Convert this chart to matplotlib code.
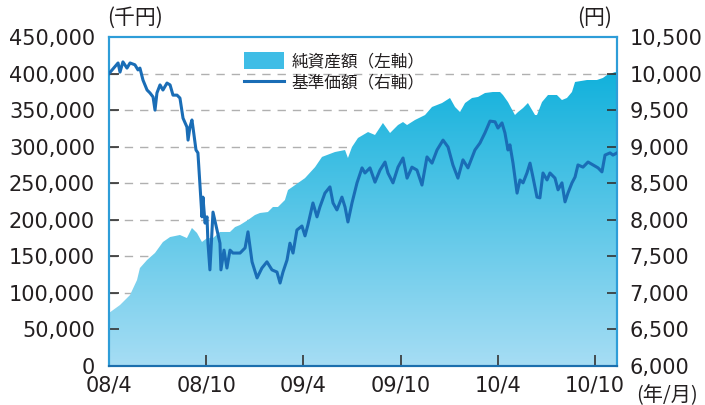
import numpy as np
import matplotlib.pyplot as plt
from matplotlib.colors import LinearSegmentedColormap
from matplotlib.patches import Patch, Polygon
from matplotlib.lines import Line2D

plt.rcParams['font.family'] = ['DejaVu Sans', 'Noto Sans CJK JP']

# months counted from 2008/4
nav_month = [0, 0.56, 0.68, 0.86, 1.11, 1.30, 1.60, 1.79, 1.91, 2.10, 2.35, 2.53, 2.72, 2.84, 2.96,
             3.15, 3.33, 3.58, 3.77, 3.95, 4.20, 4.38, 4.57, 4.81, 4.88, 5.00, 5.12, 5.19, 5.37,
             5.49, 5.62, 5.74, 5.80, 5.93, 6.05, 6.11, 6.23, 6.42, 6.67, 6.85, 6.91, 7.10, 7.28,
             7.47, 7.65, 7.90, 8.09, 8.40, 8.58, 8.83, 9.14, 9.44, 9.75, 10.06, 10.37, 10.56,
             10.74, 10.99, 11.17, 11.36, 11.60, 11.91, 12.10, 12.28, 12.59, 12.84, 13.02, 13.33,
             13.64, 13.83, 14.07, 14.38, 14.57, 14.75, 15.00, 15.31, 15.62, 15.80, 16.11, 16.42,
             16.73, 17.04, 17.22, 17.53, 17.84, 18.15, 18.40, 18.70, 19.01, 19.32, 19.63, 19.94,
             20.25, 20.62, 20.93, 21.23, 21.54, 21.85, 22.16, 22.59, 22.90, 23.21, 23.52, 23.83,
             24.01, 24.26, 24.44, 24.63, 24.75, 24.94, 25.19, 25.37, 25.56, 25.80, 25.99, 26.17,
             26.42, 26.60, 26.79, 27.04, 27.22, 27.53, 27.72, 27.96, 28.15, 28.33, 28.58, 28.77,
             28.95, 29.26, 29.57, 29.88, 30.19, 30.43, 30.62, 30.93, 31.11, 31.36]
nav_value = [10000, 10145, 10020, 10160, 10075, 10145, 10120, 10050, 10075, 9910, 9775, 9735, 9680,
             9500, 9735, 9845, 9775, 9870, 9845, 9705, 9705, 9665, 9390, 9270, 9090, 9270, 9365,
             9255, 8955, 8915, 8450, 8040, 8310, 7955, 8040, 7680, 7315, 8105, 7860, 7680, 7315,
             7585, 7340, 7585, 7545, 7545, 7545, 7615, 7835, 7425, 7205, 7340, 7425, 7315, 7285,
             7135, 7285, 7450, 7680, 7545, 7860, 7915, 7780, 7930, 8230, 8040, 8175, 8365, 8450,
             8230, 8135, 8310, 8175, 7970, 8230, 8505, 8710, 8640, 8710, 8515, 8680, 8790, 8640,
             8505, 8720, 8845, 8570, 8720, 8680, 8475, 8860, 8775, 8955, 9090, 8995, 8750, 8570,
             8820, 8710, 8955, 9050, 9190, 9350, 9340, 9255, 9325, 9190, 8955, 9025, 8775, 8365,
             8545, 8505, 8640, 8775, 8585, 8310, 8300, 8640, 8545, 8640, 8570, 8410, 8505, 8245,
             8365, 8505, 8585, 8750, 8720, 8790, 8750, 8710, 8655, 8885, 8915, 8885, 8915]

asset_month = [0, 0.68, 1.30, 1.73, 1.91, 2.35, 2.84, 3.33, 3.77, 4.38, 4.81, 5.12, 5.43, 5.74,
               6.05, 6.42, 6.85, 7.47, 7.78, 8.09, 8.58, 9.01, 9.32, 9.81, 10.12, 10.43, 10.86,
               11.05, 11.67, 12.10, 12.72, 13.15, 13.95, 14.57, 14.75, 15.00, 15.37, 15.99, 16.42,
               16.91, 17.35, 17.84, 18.15, 18.40, 18.89, 19.51, 19.94, 20.56, 21.05, 21.36, 21.67,
               21.98, 22.41, 22.78, 23.21, 23.70, 24.14, 24.32, 24.63, 25.06, 25.25, 25.56, 25.86,
               26.30, 26.42, 26.73, 27.10, 27.65, 27.96, 28.27, 28.58, 28.77, 29.51, 30.12, 30.49,
               30.74, 31.23, 31.36]
asset_value = [72500, 83400, 97100, 117600, 134000, 145000, 154600, 169600, 176400, 179200, 175000,
               188800, 182000, 169600, 175000, 175000, 183300, 183300, 190000, 192900, 199700,
               206500, 209300, 210600, 217500, 217500, 227000, 240700, 250300, 257000, 272000,
               286000, 292700, 295400, 284500, 299500, 311900, 320000, 316000, 332400, 318700,
               329600, 333700, 329600, 336500, 343300, 354300, 359700, 366600, 354300, 347400,
               359700, 366600, 368000, 373400, 374800, 374800, 370700, 361000, 343300, 347400,
               352900, 359700, 343300, 343300, 361000, 370700, 370700, 363800, 366600, 374800,
               388500, 391200, 391200, 394000, 398000, 402000, 402000]

x_ticks = [0, 6, 12, 18, 24, 30]
x_labels = ['08/4', '08/10', '09/4', '09/10', '10/4', '10/10']
left_ticks = [0, 50000, 100000, 150000, 200000, 250000, 300000, 350000, 400000, 450000]
right_ticks = [6000, 6500, 7000, 7500, 8000, 8500, 9000, 9500, 10000, 10500]

txt = '#231f20'
spine_c = '#2e9dd8'
x_end = nav_month[-1]

fig = plt.figure(figsize=(7.05, 4.05), dpi=100)
ax = fig.add_axes([0.1546, 0.0963, 0.7206, 0.8123])
ax.set_xlim(0, x_end)
ax.set_ylim(0, 450000)

# dashed grid behind the area
for v in left_ticks[1:-1]:
    ax.axhline(v, color='#b0b0b0', lw=1, ls=(0, (6, 5)), zorder=0.5)

# gradient area for net assets
verts = [(asset_month[0], 0)] + list(zip(asset_month, asset_value)) + [(asset_month[-1], 0)]
poly = Polygon(verts, closed=True, facecolor='none', edgecolor='none')
ax.add_patch(poly)
cmap = LinearSegmentedColormap.from_list('area', ['#a6ddf4', '#00acd9'])
grad = np.linspace(0, 1, 256).reshape(-1, 1)
im = ax.imshow(grad, cmap=cmap, extent=[0, x_end, 0, 450000], origin='lower',
               aspect='auto', zorder=1)
im.set_clip_path(poly)

ax2 = ax.twinx()
ax2.set_ylim(6000, 10500)
ax2.plot(nav_month, nav_value, color='#1a6db6', lw=2.2, zorder=3)

ax.set_xticks(x_ticks)
ax.set_xticklabels(x_labels)
ax.set_yticks(left_ticks)
ax.set_yticklabels(['{:,}'.format(v) for v in left_ticks])
ax2.set_yticks(right_ticks)
ax2.set_yticklabels(['{:,}'.format(v) for v in right_ticks])

ax.tick_params(axis='y', direction='in', length=7, width=1.2, color='#333333',
               labelsize=15, labelcolor=txt, pad=10)
ax.tick_params(axis='x', direction='in', length=8, width=1.2, color='#333333',
               labelsize=15, labelcolor=txt, pad=7)
ax2.tick_params(axis='y', direction='in', length=7, width=1.2, color='#333333',
                labelsize=15, labelcolor=txt, pad=9)

for a in (ax, ax2):
    for s in a.spines.values():
        s.set_color(spine_c)
        s.set_linewidth(1.5)
    a.spines['bottom'].set_color('#1b6fae')

fig.text(0.152, 0.955, '(千円)', fontsize=15, color=txt, va='center',
         family=['Noto Sans CJK JP'])
fig.text(0.868, 0.955, '(円)', fontsize=15, color=txt, va='center', ha='right',
         family=['Noto Sans CJK JP'])
fig.text(0.903, 0.024, '(年/月)', fontsize=14.5, color=txt, va='center',
         family=['Noto Sans CJK JP'])

handles = [Patch(facecolor='#3fbde6', edgecolor='none'),
           Line2D([], [], color='#1a6db6', lw=2.2)]
ax2.legend(handles, ['純資産額（左軸）', '基準価額（右軸）'], loc='upper left',
           bbox_to_anchor=(0.25, 0.98), frameon=False, borderpad=0,
           handlelength=2.4, handleheight=1.2, handletextpad=0.45, labelspacing=0.2,
           prop={'family': ['Noto Sans CJK JP'], 'size': 12}, labelcolor=txt)

fig.savefig('out.png', dpi=100)
